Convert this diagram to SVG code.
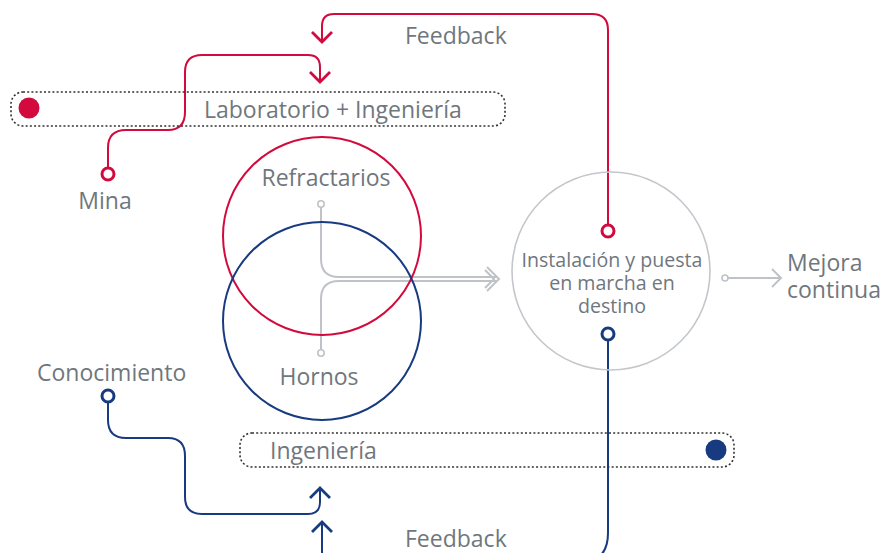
<svg xmlns="http://www.w3.org/2000/svg" width="882" height="553" viewBox="0 0 882 553">
<style>
text{font-family:"Open Sans","Liberation Sans",sans-serif;fill:#6f777d}
.lbl{font-size:23px}
.sm{font-size:19.6px}
.box{fill:none;stroke:#333;stroke-width:1.6;stroke-dasharray:2 2.2}
.red{fill:none;stroke:#d20a3e;stroke-width:2}
.blue{fill:none;stroke:#173a80;stroke-width:2}
.gray{fill:none;stroke:#bfc3c8;stroke-width:2}
.ah{stroke-width:2.8;stroke-linecap:butt}
.ring{fill:#fff;stroke-width:3}
</style>
<rect width="882" height="553" fill="#fff"/>
<g id="connectors">
  <path class="red" d="M608,225 V30 Q608,14 592,14 H334 Q322,14 322,26 V42"/>
  <polyline class="red ah" points="312,32 322,42 332,32"/>
  <path class="red" d="M108,168 V148 Q108,130 126,130 H168 Q185,130 185,112 V72 Q185,55 202,55 H308 Q320,55 320,67 V82"/>
  <polyline class="red ah" points="310,72 320,82 330,72"/>
  <path class="blue" d="M108,402 V420 Q108,438 126,438 H168 Q185,438 185,456 V497 Q185,514 202,514 H308 Q320,514 320,502 V488"/>
  <polyline class="blue ah" points="310,498 320,488 330,498"/>
  <path class="blue" d="M608,340 V533 Q608,563 578,563 H334 Q322,563 322,551 V522"/>
  <polyline class="blue ah" points="312,532 322,522 332,532"/>
  <path class="gray" d="M321,207 V259 Q321,277 339,277 H497"/>
  <path class="gray" d="M321,350 V299 Q321,281 339,281 H497"/>
  <circle cx="321" cy="204" r="3.2" fill="#fff" stroke="#bfc3c8" stroke-width="1.6"/>
  <circle cx="321" cy="353" r="3.2" fill="#fff" stroke="#bfc3c8" stroke-width="1.6"/>
  <polyline class="gray" points="487,267 499,279 487,291" stroke-width="1.6"/>
  <polyline class="gray" points="485,270 494,279 485,288" stroke-width="1.4"/>
  <path class="gray" d="M728,278 H781" stroke-width="1.6"/>
  <circle cx="725" cy="278" r="3" fill="#fff" stroke="#bfc3c8" stroke-width="1.6"/>
  <polyline class="gray" points="772,269 781,278 772,287" stroke-width="1.6"/>
</g>
<g id="node-laboratorio">
  <rect class="box" x="11" y="92" width="494" height="34" rx="12"/>
  <circle cx="29" cy="108" r="10.5" fill="#d20a3e"/>
  <text class="lbl" x="204" y="118">Laboratorio + Ingeniería</text>
</g>
<g id="node-ingenieria">
  <rect class="box" x="240" y="433" width="494" height="34" rx="12"/>
  <circle cx="716" cy="450" r="10.5" fill="#173a80"/>
  <text class="lbl" x="270" y="459">Ingeniería</text>
</g>
<g id="node-refractarios">
  <circle cx="322" cy="236" r="99" fill="none" stroke="#d20a3e" stroke-width="2"/>
  <text class="lbl" x="326" y="186" text-anchor="middle">Refractarios</text>
</g>
<g id="node-hornos">
  <circle cx="322" cy="321" r="99" fill="none" stroke="#173a80" stroke-width="2"/>
  <text class="lbl" x="319" y="385" text-anchor="middle">Hornos</text>
</g>
<g id="node-instalacion">
  <circle cx="611" cy="271" r="99" fill="none" stroke="#c3c7cb" stroke-width="1.6"/>
  <text class="sm" x="612" y="267" text-anchor="middle">Instalación y puesta</text>
  <text class="sm" x="612" y="290" text-anchor="middle">en marcha en</text>
  <text class="sm" x="612" y="313" text-anchor="middle">destino</text>
  <circle class="ring" cx="608" cy="231" r="6" stroke="#d20a3e"/>
  <circle class="ring" cx="608" cy="334" r="6" stroke="#173a80"/>
</g>
<g id="node-mina">
  <circle class="ring" cx="108" cy="174" r="6" stroke="#d20a3e"/>
  <text class="lbl" x="105" y="209" text-anchor="middle">Mina</text>
</g>
<g id="node-conocimiento">
  <circle class="ring" cx="108" cy="396" r="6" stroke="#173a80"/>
  <text class="lbl" x="37" y="381">Conocimiento</text>
</g>
<g id="node-mejora">
  <text class="lbl" x="787" y="271">Mejora</text>
  <text class="lbl" x="787" y="298">continua</text>
</g>
<g id="labels">
  <text class="lbl" x="405" y="44">Feedback</text>
  <text class="lbl" x="405" y="547">Feedback</text>
</g>
</svg>
